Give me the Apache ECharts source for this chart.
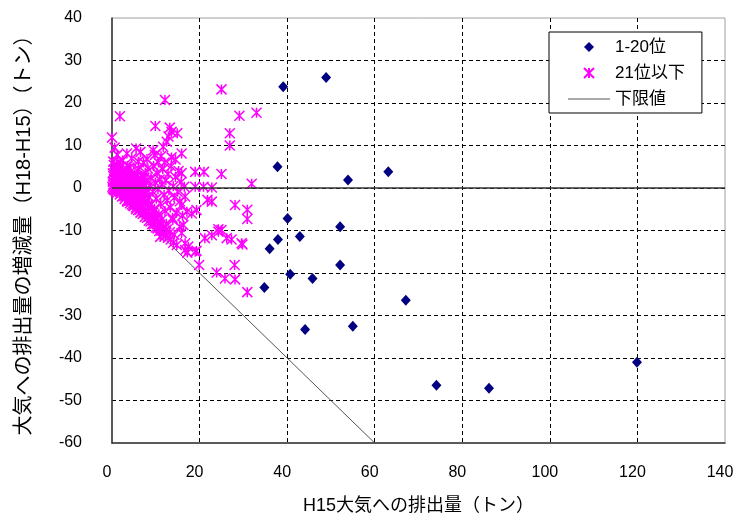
<!DOCTYPE html>
<html><head><meta charset="utf-8">
<script src="https://cdn.jsdelivr.net/npm/echarts@6/dist/echarts.min.js"></script>
<style>html,body{margin:0;padding:0;background:#fff}#c{width:740px;height:523px}</style>
</head><body><div id="c"></div>
<script>
// 1-20位 : [H15排出量, H18-H15 増減量]
var top20 = [
 [39.1,23.8],[48.9,26.0],[37.8,5.0],[53.9,1.9],[63.1,3.8],[40.1,-7.2],[52.1,-9.1],
 [42.9,-11.4],[37.9,-12.1],[36.0,-14.3],[40.7,-20.3],[45.8,-21.3],[52.1,-18.1],
 [34.8,-23.4],[67.1,-26.4],[44.1,-33.3],[55.0,-32.5],[74.1,-46.4],[86.1,-47.1],[119.9,-41.0]
];
// 21位以下
var rest = [
 [25.0,23.2],[12.1,20.7],[1.8,16.9],[29.1,17.0],[33.0,17.7],[9.9,14.6],[13.2,14.2],[13.6,13.2],
 [14.9,12.9],[12.9,12.1],[12.5,10.9],[11.7,9.7],[0.0,11.9],[26.9,12.9],[26.9,10.0],[9.4,8.9],
 [5.5,9.3],[3.4,8.1],[15.9,8.1],[9.8,7.8],[13.6,7.2],[10.6,6.0],[6.0,6.2],
 [19.0,3.8],[21.0,3.8],[25.0,3.3],[15.9,3.5],[31.9,1.0],[16.5,0.3],[19.0,0.3],[20.9,0.3],[22.8,0.1],
 [21.8,-2.8],[22.8,-3.2],[16.7,-2.0],[15.9,-4.0],[28.1,-4.0],[30.9,-5.1],[30.9,-7.3],[17.1,-5.6],
 [18.2,-6.0],[19.3,-5.2],[16.3,-8.7],[15.5,-9.1],[15.9,-10.6],[13.9,-7.5],[24.3,-9.7],[25.0,-9.9],
 [24.3,-10.3],[22.8,-11.1],[21.2,-11.8],[26.2,-11.8],[27.3,-12.1],[29.8,-13.3],[29.6,-13.0],
 [16.7,-13.0],[17.4,-13.8],[16.7,-14.6],[19.0,-15.0],[17.2,-15.2],[19.3,-14.8],[11.0,-11.5],
 [19.9,-18.1],[23.9,-19.9],[25.8,-21.3],[28.1,-21.5],[28.0,-18.1],[30.9,-24.5],
 [0.1,0.3],[0.2,1.5],[0.2,-0.1],[0.3,2.8],[0.3,0.8],[0.4,-0.3],[0.5,4.2],[0.5,1.9],[0.6,0.1],
 [0.6,-0.5],[0.7,3.1],[0.8,1.0],[0.9,-0.8],[1.0,2.2],[1.0,5.6],[1.1,0.4],[1.2,-1.1],[1.3,3.6],
 [1.4,1.3],[1.5,-0.3],[1.6,4.8],[1.7,2.0],[1.8,-1.5],[1.9,0.7],[2.0,3.0],[2.1,-0.6],[2.2,1.6],
 [2.3,-2.0],[2.4,4.1],[2.5,0.2],[2.6,2.5],[2.7,-1.2],[2.8,1.1],[2.9,-2.6],[3.0,3.4],[3.1,0.0],
 [3.2,-1.7],[3.3,1.9],[3.4,-3.0],[3.5,5.2],[3.6,0.6],[3.7,-0.9],[3.8,2.7],[3.9,-2.3],[4.0,1.2],
 [4.1,-3.6],[4.2,-0.2],[4.3,3.9],[4.4,-1.4],[4.5,0.9],[4.6,-2.8],[4.7,2.2],[4.8,-4.1],[4.9,-0.7],
 [5.0,1.5],[5.1,-2.0],[5.2,3.2],[5.3,-3.3],[5.4,0.3],[5.5,-4.6],[5.6,-1.1],[5.7,2.0],[5.8,-2.6],
 [5.9,0.8],[6.0,-3.9],[6.1,4.4],[6.2,-0.4],[6.3,-5.1],[6.4,1.7],[6.5,-1.8],[6.6,-3.0],[6.7,0.1],
 [6.8,2.9],[6.9,-4.4],[7.0,-0.9],[7.1,1.2],[7.2,-2.4],[7.3,-5.6],[7.4,0.5],[7.5,-1.5],[7.6,3.6],
 [7.7,-3.4],[7.8,-0.2],[7.9,-6.0],[8.0,1.9],
 [0.4,5.4],[0.8,4.0],[1.2,2.6],[1.5,0.9],[1.9,-0.9],[2.3,3.5],[2.6,1.3],[3.0,-0.5],[3.3,4.5],
 [3.6,-1.4],[4.0,2.0],[4.3,0.0],[4.6,3.0],[5.0,-0.2],[5.3,1.0],[5.6,2.7],[6.0,0.4],[6.4,-1.0],
 [6.7,2.2],[7.0,-3.0],[7.4,2.4],[7.8,-1.0],[2.0,5.0],[4.0,4.8],[5.8,4.0],[1.0,-0.3],[2.6,-1.9],
 [3.8,-2.8],[5.0,-3.0],[6.2,-2.6],[0.2,3.4],[0.3,6.2],[1.6,6.0],
 [3.0,-2.0],[3.5,-3.2],[4.0,-3.0],[4.5,-3.9],[5.0,-4.2],[5.5,-5.0],[6.0,-5.2],[6.5,-5.8],[7.0,-6.1],
 [7.5,-6.8],[8.0,-7.0],[8.4,-7.7],[8.8,-7.9],[9.2,-8.5],[9.6,-8.6],[10.0,-9.3],[10.4,-9.5],
 [10.8,-10.1],[11.2,-10.0],[11.7,-10.8],[12.2,-11.2],[12.8,-11.7],[13.4,-12.1],[14.0,-12.9],
 [14.8,-13.4],[8.5,-5.5],[9.0,-6.8],[9.8,-7.2],[10.5,-8.0],[11.0,-8.6],[11.8,-9.2],[12.5,-9.8],
 [13.2,-10.4],[14.2,-11.0],[8.2,-4.0],[9.4,-5.8],[10.2,-7.0],[11.4,-7.4],[12.4,-8.4],
 [8.2,4.6],[8.5,-2.1],[8.6,0.6],[8.9,2.4],[9.0,-3.8],[9.3,-0.9],[9.5,5.2],[9.7,-4.9],[9.9,1.3],
 [10.1,-2.5],[10.3,3.5],[10.5,-0.3],[10.7,-6.2],[10.9,2.0],[11.1,-3.7],[11.4,0.9],[11.6,4.4],
 [11.9,-1.6],[12.1,-5.4],[12.3,1.8],[12.6,-2.9],[12.8,3.3],[13.0,-0.6],[13.3,-4.6],[13.5,5.1],
 [13.8,-7.0],[14.0,0.4],[14.2,-2.3],[14.5,2.6],[14.7,-5.8],[15.0,-0.9],[15.2,4.0],[15.5,-3.1],
 [15.8,1.4],[16.1,-6.5],[12.0,6.0],[14.5,6.7],[11.2,7.5],[8.0,6.8],[7.2,6.0],[2.4,6.5],[4.5,7.0],
 [1.2,7.8],[6.5,8.5],[0.6,9.5]
];
// 下限値 (減少量 = 排出量)
var lowerLimit = [[0,0],[60,-60]];
var xTicks = {min:0, max:140, interval:20};
var yTicks = {min:-60, max:40, interval:10};

var FONT = "'Liberation Sans','Noto Sans CJK JP',sans-serif";
var chart = echarts.init(document.getElementById('c'), null, {renderer:'canvas'});
chart.setOption({
  animation:false,
  backgroundColor:'#fff',
  grid:{left:112, top:18, right:15, bottom:80, show:true, borderColor:'#a0a0a0', borderWidth:1, backgroundColor:'transparent'},
  legend:{
    orient:'vertical', left:549, top:32,
    padding:[5,17,4,19], itemGap:6, itemWidth:42, itemHeight:10,
    backgroundColor:'#fff', borderColor:'#000', borderWidth:1, borderRadius:0,
    textStyle:{fontFamily:FONT, fontSize:17, color:'#000', lineHeight:20},
    data:[
      {name:'1-20位', icon:'path://M5,0L10,5L5,10L0,5Z'},
      {name:'21位以下'},
      {name:'下限値', icon:'path://M0,0H42V1.2H0Z', itemStyle:{color:'#555'}}
    ]
  },
  xAxis:{
    type:'value', min:xTicks.min, max:xTicks.max, interval:xTicks.interval,
    name:'H15大気への排出量（トン）', nameLocation:'middle', nameGap:54,
    nameTextStyle:{fontFamily:FONT, fontSize:18, color:'#000'},
    axisLine:{onZero:false, show:true, lineStyle:{color:'#333', width:1.5}},
    axisTick:{show:false},
    axisLabel:{fontFamily:FONT, fontSize:16, color:'#000', margin:22, padding:[0,10,0,0]},
    splitLine:{show:true, showMinLine:false, showMaxLine:false, lineStyle:{color:'#000', type:[4,3], width:1}}
  },
  yAxis:{
    type:'value', min:yTicks.min, max:yTicks.max, interval:yTicks.interval,
    name:'大気への排出量の増減量（H18-H15）（トン）', nameLocation:'middle', nameGap:78,
    nameTextStyle:{fontFamily:FONT, fontSize:20, color:'#000'},
    axisLine:{show:true, lineStyle:{color:'#333', width:1.5}},
    axisTick:{show:false},
    axisLabel:{fontFamily:FONT, fontSize:16, color:'#000', margin:30},
    splitLine:{show:true, showMinLine:false, showMaxLine:false, lineStyle:{color:'#000', type:[4,3], width:1}}
  },
  series:[
    {
      name:'下限値', type:'line', data:lowerLimit, symbol:'none', showSymbol:false,
      lineStyle:{color:'#555', width:1}, itemStyle:{color:'#555'}, z:2,
      markLine:{silent:true, symbol:'none', label:{show:false}, animation:false,
        lineStyle:{color:'#333', width:1.5, type:'solid'}, data:[{yAxis:0}]}
    },
    {
      name:'21位以下', type:'scatter', data:rest,
      symbol:'path://M0,0L10,10M10,0L0,10M5,0L5,10', symbolSize:10,
      itemStyle:{color:'#ff00ff', borderColor:'#ff00ff', borderWidth:1.5, opacity:1}, z:3
    },
    {
      name:'1-20位', type:'scatter', data:top20,
      symbol:'diamond', symbolSize:[10,11],
      itemStyle:{color:'#000080', opacity:1}, z:4
    }
  ]
});
</script></body></html>
